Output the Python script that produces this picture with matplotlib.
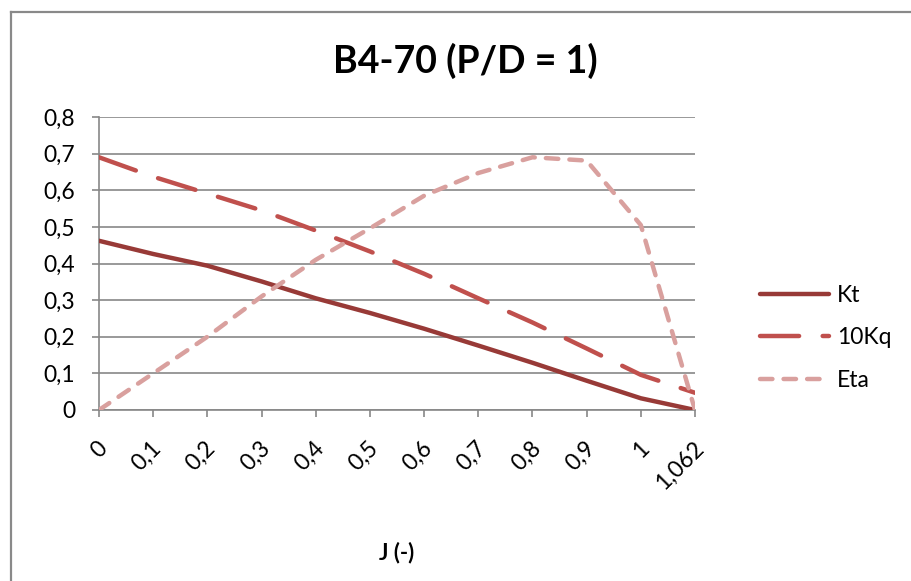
import matplotlib
matplotlib.use("Agg")
import matplotlib.pyplot as plt
import matplotlib.transforms as mtransforms
from matplotlib.lines import Line2D

plt.rcParams['font.family'] = ['Lato', 'DejaVu Sans']

# J values as categories (Excel line chart -> equally spaced)
j_labels = ['0', '0,1', '0,2', '0,3', '0,4', '0,5', '0,6', '0,7', '0,8', '0,9', '1', '1,062']
kt = [0.462, 0.426, 0.394, 0.351, 0.305, 0.265, 0.222, 0.176, 0.129, 0.080, 0.032, 0.0]
kq10 = [0.690, 0.637, 0.591, 0.545, 0.490, 0.433, 0.372, 0.305, 0.239, 0.168, 0.096, 0.047]
eta = [0.0, 0.100, 0.200, 0.310, 0.410, 0.496, 0.585, 0.647, 0.690, 0.681, 0.505, 0.0]
y_ticks = [0, 0.1, 0.2, 0.3, 0.4, 0.5, 0.6, 0.7, 0.8]

grid_col = '#878787'
x = list(range(len(j_labels)))

fig = plt.figure(figsize=(9.12, 5.81), dpi=100)
ax = fig.add_axes([99 / 912, 1 - 410 / 581, (695 - 99) / 912, (410 - 117) / 581])

lw = 3.2
ax.plot(x, kt, color='#983A37', lw=lw, solid_capstyle='round', label='Kt', zorder=3)
ax.plot(x, kq10, color='#C0504D', lw=lw, dashes=(8.8, 5.3), dash_capstyle='round',
        label='10Kq', zorder=3)
ax.plot(x, eta, color='#D9A09E', lw=lw, dashes=(2.8, 2.5), dash_capstyle='round',
        label='Eta', zorder=3)

ax.set_xlim(0, len(j_labels) - 1)
ax.set_ylim(0, 0.8)
ax.set_yticks(y_ticks)
ax.set_yticklabels([('%.1f' % v).replace('.', ',') if v else '0' for v in y_ticks])
ax.set_xticks(x)
ax.set_xticklabels(j_labels, rotation=45, ha='right', va='center', rotation_mode='anchor')

ax.grid(axis='y', color=grid_col, lw=1.2)
ax.set_axisbelow(True)
for s in ['top', 'right']:
    ax.spines[s].set_visible(False)
for s in ['left', 'bottom']:
    ax.spines[s].set_color(grid_col)
    ax.spines[s].set_linewidth(1.2)
ax.tick_params(axis='both', direction='out', length=5, width=1.2, color=grid_col, labelsize=16.5)
ax.tick_params(axis='y', pad=12)
ax.tick_params(axis='x', pad=20)

# nudge the rotated J labels a little to the right, like Excel places them
shift = mtransforms.ScaledTranslation(5 / 100, 0, fig.dpi_scale_trans)
for lab in ax.get_xticklabels():
    lab.set_transform(lab.get_transform() + shift)

ax.set_xlabel('J (-)', fontsize=16, fontweight='bold')
ax.xaxis.set_label_coords(0.5, -0.45)

fig.text(465 / 912, 1 - 61 / 581, 'B4-70 (P/D = 1)', fontsize=27, fontweight='bold',
         ha='center', va='center')

ax.legend(loc='center left', bbox_to_anchor=(760 / 912, 1 - 338 / 581),
          bbox_transform=fig.transFigure, frameon=False, fontsize=16.5,
          handlelength=3.0, handletextpad=0.35, labelspacing=0.95,
          borderpad=0, borderaxespad=0)

# outer chart frame (left and top edges visible)
fig.add_artist(Line2D([11.5 / 912, 11.5 / 912], [0, 1 - 12 / 581], color='#898989', lw=1.6))
fig.add_artist(Line2D([11.5 / 912, 1], [1 - 12 / 581, 1 - 12 / 581], color='#898989', lw=1.6))

fig.savefig('out.png', dpi=100)
